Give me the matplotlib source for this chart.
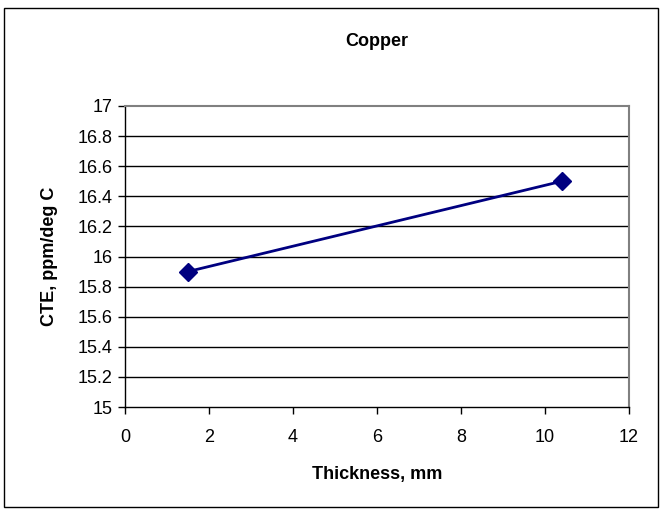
import matplotlib
matplotlib.use("Agg")
import matplotlib.pyplot as plt
from matplotlib.patches import Rectangle
import numpy as np

plt.rcParams['font.family'] = ['Liberation Sans', 'DejaVu Sans']

thickness = [1.5, 10.4]
cte = [15.9, 16.5]
x_ticks = [0, 2, 4, 6, 8, 10, 12]
y_ticks = [15, 15.2, 15.4, 15.6, 15.8, 16, 16.2, 16.4, 16.6, 16.8, 17]
y_labels = ['15', '15.2', '15.4', '15.6', '15.8', '16', '16.2', '16.4', '16.6', '16.8', '17']

fig = plt.figure(figsize=(6.62, 5.12), dpi=100)
fig.patches.append(Rectangle((4/662, 1 - 507/512), 654/662, 499/512, transform=fig.transFigure,
                             fill=False, edgecolor='black', linewidth=1.0))

ax = fig.add_axes([125/662, 1 - 407/512, 504/662, 301/512])
ax.set_xlim(0, 12)
ax.set_ylim(15, 17)
ax.set_xticks(x_ticks)
ax.set_xticklabels([str(t) for t in x_ticks])
ax.set_yticks(y_ticks)
ax.set_yticklabels(y_labels)
for yv in y_ticks[1:-1]:
    ax.axhline(yv, color='black', linewidth=1.0, zorder=1)

ax.plot(thickness, cte, color='#000080', linewidth=2, marker='D', markersize=9,
        markerfacecolor='#000080', markeredgecolor='#000080', zorder=3, clip_on=False)

for s in ['top', 'right']:
    ax.spines[s].set_color('#808080')
    ax.spines[s].set_linewidth(1.5)
for s in ['left', 'bottom']:
    ax.spines[s].set_color('black')
    ax.spines[s].set_linewidth(1.0)

ax.tick_params(axis='both', direction='out', length=5, width=1, labelsize=13, pad=4)
ax.tick_params(axis='x', pad=11)

ax.set_xlabel('Thickness, mm', fontsize=13, fontweight='bold', labelpad=14)
ax.set_ylabel('CTE, ppm/deg C', fontsize=13, fontweight='bold', labelpad=14)
fig.text((125 + 629) / 2 / 662, 1 - 41/512, 'Copper', ha='center', va='center',
         fontsize=13, fontweight='bold')

fig.savefig('out.png', dpi=100)
